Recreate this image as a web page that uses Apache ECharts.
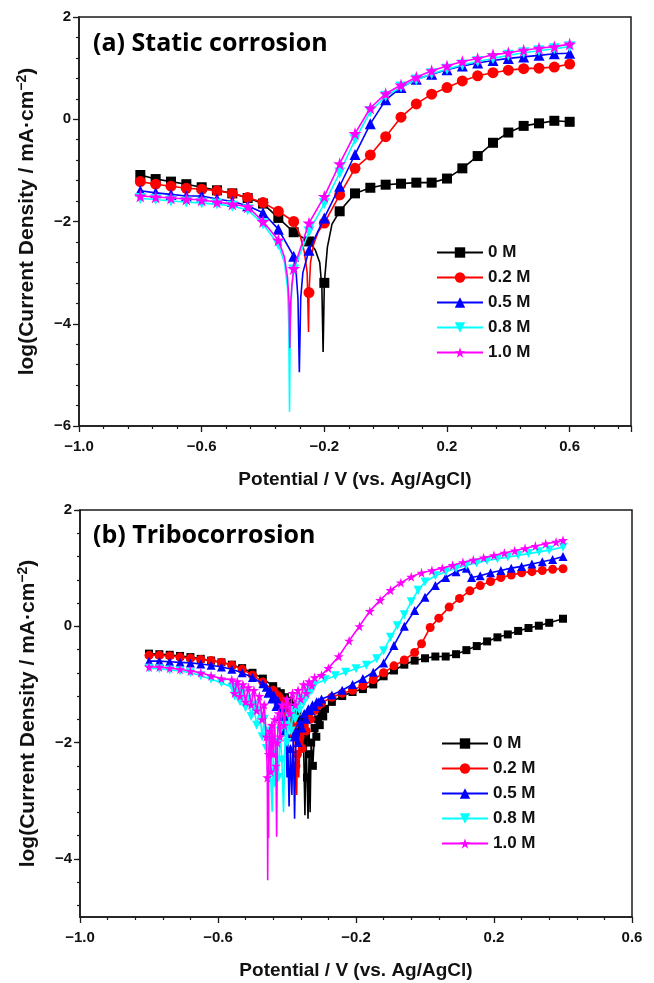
<!DOCTYPE html>
<html>
<head>
<meta charset="utf-8">
<script src="https://cdn.jsdelivr.net/npm/echarts@6/dist/echarts.min.js"></script>
<style>
html,body{margin:0;padding:0;background:#fff;}
#chart{width:654px;height:983px;}
</style>
</head>
<body>
<div id="chart"></div>
<script>
// ---------------- DATA ----------------
const seriesNames = ['0 M', '0.2 M', '0.5 M', '0.8 M', '1.0 M'];
const panelTitles = ['(a) Static corrosion', '(b) Tribocorrosion'];
const xAxisTitle = 'Potential / V (vs. Ag/AgCl)';
const yTicksB = [-4, -2, 0, 2];

// Panel (a): static corrosion, marker points every 0.05 V
const a_x = [-0.80,-0.75,-0.70,-0.65,-0.60,-0.55,-0.50,-0.45,-0.40,-0.35,-0.30,-0.25,-0.20,-0.15,-0.10,-0.05,0.00,0.05,0.10,0.15,0.20,0.25,0.30,0.35,0.40,0.45,0.50,0.55,0.60];
const a_0M  = [-1.09,-1.17,-1.22,-1.27,-1.33,-1.39,-1.45,-1.54,-1.65,-1.93,-2.21,-2.39,-3.20,-1.80,-1.45,-1.34,-1.28,-1.26,-1.24,-1.24,-1.16,-0.96,-0.72,-0.46,-0.26,-0.13,-0.08,-0.03,-0.05];
const a_02M = [-1.22,-1.27,-1.31,-1.35,-1.37,-1.40,-1.45,-1.53,-1.63,-1.80,-2.00,-3.39,-2.03,-1.48,-0.96,-0.70,-0.34,0.04,0.30,0.49,0.62,0.75,0.85,0.91,0.96,0.99,1.00,1.02,1.08];
const a_05M = [-1.40,-1.44,-1.47,-1.50,-1.50,-1.56,-1.61,-1.69,-1.83,-2.15,-2.68,-2.56,-1.93,-1.31,-0.69,-0.09,0.38,0.62,0.78,0.88,0.97,1.04,1.10,1.15,1.19,1.22,1.25,1.28,1.29];
const a_08M = [-1.55,-1.57,-1.60,-1.62,-1.64,-1.66,-1.70,-1.77,-2.05,-2.45,-2.95,-2.20,-1.65,-1.05,-0.40,0.15,0.45,0.63,0.77,0.89,0.98,1.06,1.13,1.19,1.25,1.30,1.34,1.38,1.42];
const a_10M = [-1.50,-1.52,-1.54,-1.56,-1.58,-1.62,-1.66,-1.71,-2.00,-2.36,-2.92,-2.03,-1.51,-0.87,-0.28,0.22,0.50,0.67,0.82,0.95,1.04,1.13,1.19,1.26,1.30,1.35,1.39,1.42,1.47];
// dense points around the corrosion potential (no marker)
const a_0M_dip  = [[-0.23,-2.55],[-0.215,-2.8],[-0.208,-3.3],[-0.204,-4.55],[-0.19,-2.5],[-0.175,-2.05]];
const a_02M_dip = [[-0.28,-2.25],[-0.265,-2.6],[-0.256,-3.0],[-0.2515,-4.16],[-0.245,-2.8],[-0.235,-2.45],[-0.22,-2.2]];
const a_05M_dip = [[-0.292,-3.0],[-0.286,-3.5],[-0.2815,-4.95],[-0.277,-3.5],[-0.27,-3.0]];
const a_08M_dip = [[-0.33,-2.8],[-0.32,-3.3],[-0.316,-4.0],[-0.3135,-5.72],[-0.311,-4.0],[-0.306,-3.3]];
const a_10M_dip = [[-0.33,-2.7],[-0.32,-3.1],[-0.315,-3.6],[-0.3125,-4.48],[-0.31,-3.6],[-0.305,-3.2]];

// Panel (b): tribocorrosion, [potential, log i] marker points
const b_0M = [[-0.80,-0.47],[-0.77,-0.48],[-0.74,-0.49],[-0.71,-0.51],[-0.68,-0.53],[-0.65,-0.56],[-0.62,-0.59],[-0.59,-0.62],[-0.56,-0.66],[-0.53,-0.72],[-0.50,-0.80],[-0.47,-0.90],[-0.44,-1.03],[-0.43,-1.12],[-0.424,-1.20],[-0.418,-1.15],[-0.412,-1.30],[-0.406,-1.22],[-0.40,-1.38],[-0.394,-1.28],[-0.388,-1.50],[-0.382,-1.35],[-0.376,-1.60],[-0.37,-1.45],[-0.364,-1.80],[-0.358,-1.60],[-0.352,-2.00],[-0.345,-1.90],[-0.342,-2.60],[-0.336,-2.20],[-0.33,-2.00],[-0.325,-2.40],[-0.32,-1.75],[-0.315,-1.90],[-0.31,-1.60],[-0.305,-1.70],[-0.30,-1.50],[-0.295,-1.55],[-0.29,-1.42],[-0.27,-1.30],[-0.24,-1.20],[-0.21,-1.13],[-0.18,-1.08],[-0.15,-1.00],[-0.12,-0.86],[-0.09,-0.76],[-0.06,-0.66],[-0.03,-0.59],[0.00,-0.55],[0.03,-0.52],[0.06,-0.52],[0.09,-0.48],[0.12,-0.41],[0.15,-0.34],[0.18,-0.26],[0.21,-0.19],[0.24,-0.14],[0.27,-0.08],[0.30,-0.03],[0.33,0.01],[0.36,0.06],[0.40,0.13]];
const b_0M_spk = [[-0.348,-3.25],[-0.339,-3.31],[-0.333,-3.20]];
const b_02M = [[-0.80,-0.50],[-0.77,-0.50],[-0.74,-0.51],[-0.71,-0.53],[-0.68,-0.55],[-0.65,-0.57],[-0.62,-0.59],[-0.59,-0.62],[-0.56,-0.67],[-0.53,-0.74],[-0.50,-0.84],[-0.47,-0.96],[-0.44,-1.10],[-0.435,-1.15],[-0.43,-1.25],[-0.424,-1.20],[-0.418,-1.35],[-0.412,-1.28],[-0.406,-1.50],[-0.40,-1.38],[-0.394,-1.65],[-0.388,-1.50],[-0.382,-1.90],[-0.378,-1.70],[-0.374,-2.40],[-0.37,-2.20],[-0.362,-1.90],[-0.356,-2.10],[-0.35,-1.70],[-0.344,-1.80],[-0.338,-1.55],[-0.332,-1.60],[-0.326,-1.45],[-0.32,-1.45],[-0.314,-1.38],[-0.308,-1.36],[-0.30,-1.32],[-0.27,-1.22],[-0.24,-1.15],[-0.21,-1.10],[-0.18,-1.02],[-0.15,-0.92],[-0.12,-0.80],[-0.09,-0.68],[-0.06,-0.58],[-0.03,-0.45],[-0.01,-0.30],[0.015,-0.02],[0.04,0.14],[0.07,0.33],[0.10,0.48],[0.13,0.61],[0.16,0.70],[0.19,0.77],[0.22,0.84],[0.25,0.88],[0.28,0.92],[0.31,0.94],[0.34,0.96],[0.37,0.98],[0.40,0.99]];
const b_02M_spk = [[-0.372,-2.90],[-0.366,-2.60]];
const b_05M = [[-0.80,-0.60],[-0.77,-0.60],[-0.74,-0.61],[-0.71,-0.62],[-0.68,-0.63],[-0.65,-0.65],[-0.62,-0.67],[-0.59,-0.70],[-0.56,-0.74],[-0.53,-0.80],[-0.50,-0.88],[-0.47,-0.99],[-0.46,-1.05],[-0.455,-1.15],[-0.45,-1.10],[-0.444,-1.25],[-0.438,-1.18],[-0.432,-1.38],[-0.426,-1.28],[-0.42,-1.55],[-0.414,-1.40],[-0.408,-1.80],[-0.404,-1.60],[-0.398,-1.90],[-0.39,-2.10],[-0.382,-1.90],[-0.374,-1.80],[-0.368,-2.00],[-0.362,-1.65],[-0.356,-1.75],[-0.35,-1.50],[-0.344,-1.60],[-0.338,-1.42],[-0.332,-1.45],[-0.326,-1.35],[-0.32,-1.38],[-0.314,-1.30],[-0.308,-1.30],[-0.30,-1.25],[-0.27,-1.18],[-0.24,-1.10],[-0.21,-1.00],[-0.18,-0.90],[-0.15,-0.79],[-0.12,-0.63],[-0.09,-0.33],[-0.06,0.00],[-0.03,0.27],[0.00,0.50],[0.03,0.70],[0.06,0.84],[0.09,0.94],[0.12,1.00],[0.135,0.84],[0.16,0.87],[0.19,0.92],[0.22,0.96],[0.25,1.00],[0.28,1.03],[0.31,1.07],[0.34,1.11],[0.37,1.15],[0.40,1.20]];
const b_05M_spk = [[-0.40,-2.60],[-0.394,-3.10],[-0.386,-2.90],[-0.378,-3.31]];
const b_08M = [[-0.80,-0.72],[-0.77,-0.73],[-0.74,-0.75],[-0.71,-0.77],[-0.68,-0.80],[-0.65,-0.85],[-0.62,-0.91],[-0.59,-0.97],[-0.56,-1.05],[-0.552,-1.20],[-0.544,-1.10],[-0.536,-1.30],[-0.528,-1.15],[-0.52,-1.40],[-0.512,-1.25],[-0.504,-1.55],[-0.496,-1.35],[-0.488,-1.70],[-0.48,-1.45],[-0.472,-1.90],[-0.466,-1.60],[-0.46,-2.10],[-0.454,-1.80],[-0.448,-2.50],[-0.44,-2.20],[-0.436,-2.70],[-0.43,-2.00],[-0.425,-2.60],[-0.42,-1.80],[-0.415,-2.30],[-0.405,-1.70],[-0.40,-2.00],[-0.394,-1.55],[-0.388,-1.80],[-0.382,-1.45],[-0.376,-1.60],[-0.37,-1.35],[-0.364,-1.45],[-0.358,-1.25],[-0.352,-1.32],[-0.346,-1.15],[-0.34,-1.20],[-0.334,-1.08],[-0.328,-1.10],[-0.32,-1.00],[-0.29,-0.92],[-0.26,-0.85],[-0.23,-0.79],[-0.20,-0.73],[-0.17,-0.67],[-0.14,-0.56],[-0.12,-0.42],[-0.10,-0.19],[-0.08,0.01],[-0.06,0.20],[-0.04,0.42],[-0.02,0.62],[0.00,0.76],[0.03,0.87],[0.06,0.94],[0.09,1.00],[0.12,1.05],[0.15,1.09],[0.18,1.13],[0.21,1.16],[0.24,1.19],[0.27,1.22],[0.30,1.25],[0.33,1.28],[0.36,1.31],[0.40,1.36]];
const b_08M_spk = [[-0.443,-3.19],[-0.41,-3.20]];
const b_10M = [[-0.80,-0.70],[-0.77,-0.70],[-0.74,-0.72],[-0.71,-0.74],[-0.68,-0.77],[-0.65,-0.80],[-0.62,-0.85],[-0.59,-0.90],[-0.56,-0.92],[-0.552,-1.15],[-0.544,-0.95],[-0.536,-1.20],[-0.528,-1.00],[-0.52,-1.30],[-0.512,-1.05],[-0.504,-1.35],[-0.496,-1.10],[-0.488,-1.45],[-0.48,-1.20],[-0.472,-1.60],[-0.466,-1.35],[-0.46,-1.90],[-0.457,-2.60],[-0.453,-2.20],[-0.45,-1.80],[-0.447,-2.50],[-0.444,-1.70],[-0.44,-2.20],[-0.436,-1.60],[-0.432,-2.40],[-0.428,-2.00],[-0.424,-1.50],[-0.42,-1.90],[-0.414,-1.35],[-0.408,-1.70],[-0.40,-1.25],[-0.392,-1.50],[-0.384,-1.15],[-0.376,-1.35],[-0.368,-1.10],[-0.36,-1.25],[-0.352,-1.00],[-0.344,-1.15],[-0.336,-0.95],[-0.328,-1.02],[-0.32,-0.88],[-0.30,-0.84],[-0.28,-0.72],[-0.25,-0.52],[-0.22,-0.25],[-0.19,0.00],[-0.16,0.26],[-0.13,0.45],[-0.10,0.62],[-0.07,0.75],[-0.04,0.85],[-0.01,0.92],[0.02,0.96],[0.05,1.00],[0.08,1.05],[0.11,1.10],[0.14,1.14],[0.17,1.18],[0.20,1.22],[0.23,1.26],[0.26,1.30],[0.29,1.34],[0.32,1.38],[0.35,1.42],[0.38,1.45],[0.40,1.48]];
const b_10M_spk = [[-0.456,-4.37],[-0.455,-3.00],[-0.4535,-3.64],[-0.43,-3.62]];

// ---------------- STYLE ----------------
const colors = ['#000000', '#ff0000', '#0000ff', '#00ffff', '#ff00ff'];
const STAR = 'path://M50,0 L61,35 L98,35 L68,57 L79,91 L50,70 L21,91 L32,57 L2,35 L39,35 Z';
const DOWNTRI = 'path://M0,0 L100,0 L50,87 Z';
const symbols = ['rect', 'circle', 'triangle', DOWNTRI, STAR];
const symA = [10, 11, 11, 11, 13];
const symB = [8, 9, 9, 9, 10];
const FONT = 'Liberation Sans, Arial, sans-serif';
const AXC = '#1a1a1a';

function minusFmt(v, d) {
  const s = Math.abs(v).toFixed(d);
  return (v < -1e-9 ? '\u2212' : '') + s;
}

function buildData(marked, noMark) {
  const items = marked.map(p => ({ value: [p[0], p[1]] }));
  noMark.forEach(p => items.push({ value: [p[0], p[1]], symbol: 'none' }));
  items.sort((a, b) => a.value[0] - b.value[0]);
  return items;
}

const aSets = [[a_0M, a_0M_dip], [a_02M, a_02M_dip], [a_05M, a_05M_dip], [a_08M, a_08M_dip], [a_10M, a_10M_dip]];
const bSets = [[b_0M, b_0M_spk], [b_02M, b_02M_spk], [b_05M, b_05M_spk], [b_08M, b_08M_spk], [b_10M, b_10M_spk]];

const series = [];
aSets.forEach((s, i) => {
  const marked = a_x.map((x, k) => [x, s[0][k]]);
  series.push({
    type: 'line', name: seriesNames[i], xAxisIndex: 0, yAxisIndex: 0,
    data: buildData(marked, s[1]), symbol: symbols[i], symbolSize: symA[i],
    lineStyle: { color: colors[i], width: 1.6 }, itemStyle: { color: colors[i] },
    z: 2 + i, emphasis: { disabled: true }, silent: true
  });
});
bSets.forEach((s, i) => {
  series.push({
    type: 'line', name: seriesNames[i], xAxisIndex: 1, yAxisIndex: 1,
    data: buildData(s[0], s[1]), symbol: symbols[i], symbolSize: symB[i],
    lineStyle: { color: colors[i], width: 1.6 }, itemStyle: { color: colors[i] },
    z: 2 + i, emphasis: { disabled: true }, silent: true
  });
});

const tickLabel = { color: '#111', fontFamily: FONT, fontWeight: 'bold', fontSize: 15 };
const xNameStyle = { color: '#111', fontFamily: FONT, fontWeight: 'bold', fontSize: 19 };
const yNameStyle = {
  color: '#111', fontFamily: FONT, fontWeight: 'bold', fontSize: 21,
  rich: { s: { fontFamily: FONT, fontWeight: 'bold', fontSize: 14, color: '#111', padding: [0, 0, 11, 0] } }
};
const yName = 'log(Current Density / mA\u00B7cm{s|\u22122})';

// minor tick values 0.4 apart for panel (b) y axis
const yMinorB = [];
for (let k = -12; k <= 5; k++) yMinorB.push(+(k * 0.4).toFixed(1));

function xAxisCfg(grid, max) {
  return {
    type: 'value', gridIndex: grid, min: -1.0, max: max, interval: 0.4,
    name: xAxisTitle, nameLocation: 'middle', nameGap: 44, nameTextStyle: xNameStyle,
    axisLine: { onZero: false, lineStyle: { color: AXC, width: 1.5 } },
    axisTick: { inside: false, length: 6, lineStyle: { color: AXC, width: 1.3 } },
    minorTick: { show: true, splitNumber: 5, length: 3, lineStyle: { color: AXC, width: 1.2 } },
    splitLine: { show: false },
    axisLabel: Object.assign({ margin: 13, showMaxLabel: max < 0.7, formatter: v => minusFmt(v, 1) }, tickLabel)
  };
}

const option = {
  animation: false,
  backgroundColor: '#fff',
  title: [
    { text: panelTitles[0], left: 88, top: 26, textStyle: { fontFamily: 'Open Sans, sans-serif', fontWeight: 'bold', fontSize: 25, color: '#000' } },
    { text: panelTitles[1], left: 88, top: 518, textStyle: { fontFamily: 'Open Sans, sans-serif', fontWeight: 'bold', fontSize: 25, color: '#000' } }
  ],
  grid: [
    { left: 79, top: 17, width: 552, height: 409, show: true, borderColor: AXC, borderWidth: 1.5, backgroundColor: 'transparent' },
    { left: 80, top: 510, width: 552, height: 407, show: true, borderColor: AXC, borderWidth: 1.5, backgroundColor: 'transparent' }
  ],
  xAxis: [xAxisCfg(0, 0.8), xAxisCfg(1, 0.6)],
  yAxis: [
    {
      type: 'value', gridIndex: 0, min: -6, max: 2, interval: 2,
      name: yName, nameLocation: 'middle', nameGap: 39, nameTextStyle: yNameStyle,
      axisLine: { onZero: false, lineStyle: { color: AXC, width: 1.5 } },
      axisTick: { inside: false, length: 6, lineStyle: { color: AXC, width: 1.3 } },
      minorTick: { show: true, splitNumber: 5, length: 3, lineStyle: { color: AXC, width: 1.2 } },
      splitLine: { show: false },
      axisLabel: Object.assign({ margin: 8, formatter: v => minusFmt(v, 0) }, tickLabel)
    },
    {
      type: 'value', gridIndex: 1, min: -5, max: 2, position: 'left',
      name: yName, nameLocation: 'middle', nameGap: 39, nameTextStyle: yNameStyle,
      axisLine: { onZero: false, lineStyle: { color: AXC, width: 1.5 } },
      axisTick: { inside: false, length: 3, customValues: yMinorB, lineStyle: { color: AXC, width: 1.2 } },
      splitLine: { show: false },
      axisLabel: Object.assign({ margin: 8, customValues: yTicksB, formatter: v => minusFmt(v, 0) }, tickLabel)
    },
    {
      type: 'value', gridIndex: 1, min: -5, max: 2, position: 'left',
      axisLine: { show: false, onZero: false },
      axisTick: { inside: false, length: 6, customValues: yTicksB, lineStyle: { color: AXC, width: 1.3 } },
      axisLabel: { show: false }, splitLine: { show: false }
    }
  ],
  legend: [
    {
      data: seriesNames, orient: 'vertical', left: 431, top: 239, itemWidth: 46, itemHeight: 13, itemGap: 8,
      textStyle: { fontFamily: FONT, fontWeight: 'bold', fontSize: 17, color: '#111' }, selectedMode: false
    },
    {
      data: seriesNames, orient: 'vertical', left: 436, top: 730, itemWidth: 46, itemHeight: 13, itemGap: 8,
      textStyle: { fontFamily: FONT, fontWeight: 'bold', fontSize: 17, color: '#111' }, selectedMode: false
    }
  ],
  series: series
};

const chart = echarts.init(document.getElementById('chart'), null, { renderer: 'canvas' });
chart.setOption(option);
</script>
</body>
</html>
